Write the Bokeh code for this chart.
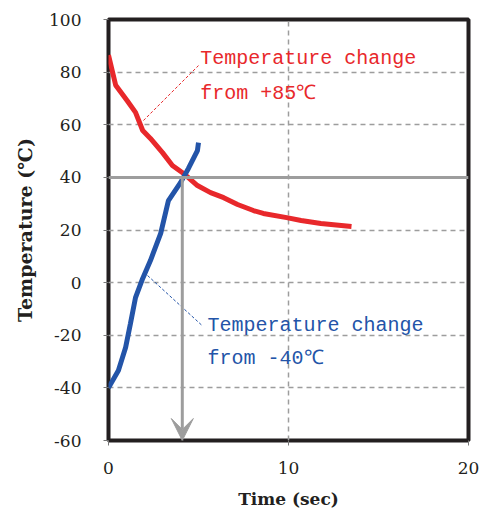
from bokeh.plotting import figure
from bokeh.models import Range1d, FixedTicker, Arrow, VeeHead, Span
from bokeh.core.properties import value
from bokeh.embed import file_html
from bokeh.resources import INLINE

# Data
hot_time = [0.0, 0.4, 1.05, 1.5, 1.9, 2.33, 3.0, 3.55, 4.17, 4.94, 5.67, 6.4, 7.17, 8.05, 8.6, 9.9, 10.7, 11.8, 13.5]
hot_temp = [86.5, 75.0, 69.0, 64.7, 57.8, 54.8, 49.4, 44.5, 41.5, 36.9, 34.2, 32.3, 29.7, 27.4, 26.3, 24.7, 23.6, 22.5, 21.3]
cold_time = [0.0, 0.55, 0.95, 1.22, 1.5, 1.9, 2.33, 2.9, 3.33, 4.0, 4.44, 4.94, 5.0]
cold_temp = [-40.0, -33.4, -24.7, -15.5, -5.7, 1.6, 8.4, 18.7, 31.2, 38.0, 43.4, 50.2, 53.2]
cross_time = 4.1
cross_temp = 40
x_ticks = [0, 10, 20]
y_ticks = [-60, -40, -20, 0, 20, 40, 60, 80, 100]
hot_label = ["Temperature change", "from +85℃"]
cold_label = ["Temperature change", "from -40℃"]

RED = "#e8282b"
BLUE = "#2354a8"
GRAY = "#9d9d9d"

p = figure(output_backend="svg", toolbar_location=None,
           frame_width=360, frame_height=421,
           min_border_left=108, min_border_right=12, min_border_top=19, min_border_bottom=68,
           x_range=Range1d(0, 20), y_range=Range1d(-60, 100))
p.background_fill_color = "white"
p.border_fill_color = "white"
p.outline_line_color = "#231f20"
p.outline_line_width = 4

# axes
for ax in (p.xaxis, p.yaxis):
    ax.axis_line_color = None
    ax.major_tick_in = 0
    ax.major_tick_out = 5
    ax.minor_tick_line_color = None
    ax.major_tick_line_color = "#777777"
    ax.major_label_text_font = "DejaVu Serif"
    ax.major_label_text_font_size = "17px"
    ax.major_label_text_color = "#231f20"
    ax.axis_label_text_font = "DejaVu Serif"
    ax.axis_label_text_font_style = "bold"
    ax.axis_label_text_color = "#231f20"
p.xaxis.axis_label_text_font_size = "17px"
p.yaxis.axis_label_text_font_size = "19px"
p.xaxis.ticker = FixedTicker(ticks=x_ticks)
p.yaxis.ticker = FixedTicker(ticks=y_ticks)
p.yaxis.major_label_overrides = {t: str(t) for t in y_ticks}
p.xaxis.axis_label = "Time (sec)"
p.yaxis.axis_label = "Temperature (℃)"
p.xaxis.major_label_standoff = 16
p.yaxis.major_label_standoff = 22
p.xaxis.axis_label_standoff = 12
p.yaxis.axis_label_standoff = 10

# grid
for g in (p.xgrid, p.ygrid):
    g.grid_line_color = GRAY
    g.grid_line_dash = "5 4"
    g.grid_line_width = 1.5
p.xgrid.ticker = FixedTicker(ticks=[10])
p.ygrid.ticker = FixedTicker(ticks=[-40, -20, 0, 20, 60, 80])

# crossing lines
p.add_layout(Span(location=cross_temp, dimension="width", line_color=GRAY, line_width=3))
p.add_layout(Arrow(x_start=cross_time, y_start=cross_temp, x_end=cross_time, y_end=-60,
                   line_color=GRAY, line_width=3,
                   end=VeeHead(size=22, fill_color=GRAY, line_color=GRAY)))

# curves
p.line(hot_time, hot_temp, line_color=RED, line_width=5)
p.line(cold_time, cold_temp, line_color=BLUE, line_width=5)

# leader lines
p.line([1.94, 5.0], [61.6, 82.5], line_color=RED, line_width=1, line_dash="3 2")
p.line([2.17, 5.2], [2.7, -16.3], line_color=BLUE, line_width=1, line_dash="3 2")

# labels
p.text(x=[5.1, 5.1], y=[85.2, 71.9], text=hot_label, text_color=RED,
       text_font=value("Liberation Mono"), text_font_size="20px", text_baseline="alphabetic")
p.text(x=[5.5, 5.5], y=[-16.3, -28.8], text=cold_label, text_color=BLUE,
       text_font=value("Liberation Mono"), text_font_size="20px", text_baseline="alphabetic")

open("out.html", "w").write(file_html(p, INLINE))
